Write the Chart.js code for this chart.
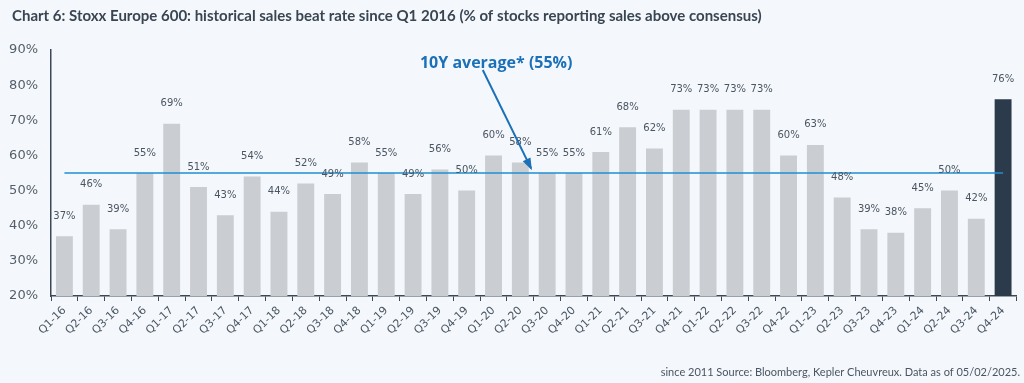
<!DOCTYPE html>
<html lang="en">
<head>
  <meta charset="UTF-8">
  <title>Stoxx Europe 600 sales beat rate</title>
  <script src="https://cdn.jsdelivr.net/npm/chart.js"></script>
  <style>
    html, body { margin: 0; padding: 0; background: #f4f8fc; }
    #wrap { position: relative; width: 1024px; height: 383px; }
  </style>
</head>
<body>
  <div id="wrap"><canvas id="beatChart" width="1024" height="383"></canvas></div>

  <script>
    // quarters since Q1 2016
    const quarters = ['Q1-16','Q2-16','Q3-16','Q4-16','Q1-17','Q2-17','Q3-17','Q4-17','Q1-18','Q2-18','Q3-18','Q4-18',
      'Q1-19','Q2-19','Q3-19','Q4-19','Q1-20','Q2-20','Q3-20','Q4-20','Q1-21','Q2-21','Q3-21','Q4-21',
      'Q1-22','Q2-22','Q3-22','Q4-22','Q1-23','Q2-23','Q3-23','Q4-23','Q1-24','Q2-24','Q3-24','Q4-24'];
    // % of stocks beating sales consensus
    const beatRate = [37,46,39,55,69,51,43,54,44,52,49,58,55,49,56,50,60,58,55,55,61,68,62,73,73,73,73,60,63,48,39,38,45,50,42,76];
    const avgRate = 55;   // 10Y average
    const yTicks = [20, 30, 40, 50, 60, 70, 80, 90];

    const avgLine = quarters.map(() => avgRate);
    const barColors = quarters.map((q, i) => i === quarters.length - 1 ? '#2b3b4c' : '#cacdd1');

    const textCol = '#4a5561';
    const axisCol = '#3c4855';

    // value labels + annotation arrow
    const extras = {
      id: 'extras',
      afterDatasetsDraw(chart) {
        const { ctx, scales: { x, y } } = chart;
        const meta = chart.getDatasetMeta(0);
        ctx.save();
        ctx.font = '10px "DejaVu Sans"';
        ctx.fillStyle = textCol;
        ctx.textAlign = 'center';
        ctx.textBaseline = 'middle';
        meta.data.forEach((bar, i) => {
          ctx.fillText(beatRate[i] + '%', bar.x, bar.y - 20);
        });

        // annotation text
        ctx.fillStyle = '#1b70b8';
        ctx.font = 'bold 16px "Open Sans"';
        ctx.fillText('10Y average* (55%)', x.getPixelForValue(16.1), y.getPixelForValue(86.3));

        // arrow
        const x0 = x.getPixelForValue(15.6), y0 = y.getPixelForValue(84.3);
        const x1 = x.getPixelForValue(17.4), y1 = y.getPixelForValue(56.3);
        ctx.strokeStyle = '#1b70b8';
        ctx.lineWidth = 2;
        ctx.beginPath();
        ctx.moveTo(x0, y0);
        ctx.lineTo(x1, y1);
        ctx.stroke();
        const ang = Math.atan2(y1 - y0, x1 - x0);
        ctx.beginPath();
        ctx.moveTo(x1 + 2 * Math.cos(ang), y1 + 2 * Math.sin(ang));
        ctx.lineTo(x1 - 11 * Math.cos(ang - 0.4), y1 - 11 * Math.sin(ang - 0.4));
        ctx.lineTo(x1 - 11 * Math.cos(ang + 0.4), y1 - 11 * Math.sin(ang + 0.4));
        ctx.closePath();
        ctx.fillStyle = '#1b70b8';
        ctx.fill();
        ctx.restore();
      },
      afterDraw(chart) {
        const ctx = chart.ctx;
        ctx.save();
        ctx.fillStyle = '#3a4552';
        ctx.font = 'bold 15px Lato';
        ctx.textBaseline = 'middle';
        ctx.textAlign = 'left';
        ctx.fillText('Chart 6: Stoxx Europe 600: historical sales beat rate since Q1 2016 (% of stocks reporting sales above consensus)', 12, 16);
        ctx.font = '11px Lato';
        ctx.textAlign = 'right';
        ctx.fillStyle = textCol;
        ctx.fillText('since 2011 Source: Bloomberg, Kepler Cheuvreux. Data as of 05/02/2025.', 1020, 372);
        ctx.restore();
      }
    };

    new Chart(document.getElementById('beatChart'), {
      data: {
        labels: quarters,
        datasets: [
          {
            type: 'bar',
            data: beatRate,
            backgroundColor: barColors,
            barPercentage: 0.63,
            categoryPercentage: 1,
            order: 2
          },
          {
            type: 'line',
            data: avgLine,
            borderColor: '#1f8fd2',
            borderWidth: 1.5,
            pointRadius: 0,
            order: 1
          }
        ]
      },
      options: {
        responsive: false,
        animation: false,
        layout: { padding: { top: 50, right: 7.5, left: 0, bottom: 0 } },
        plugins: {
          legend: { display: false },
          tooltip: { enabled: false }
        },
        scales: {
          x: {
            offset: true,
            afterFit(scale) { scale.height = 87; },
            grid: { offset: true, drawOnChartArea: false, drawTicks: true, tickLength: 5, color: axisCol },
            border: { display: true, color: axisCol, width: 1.5 },
            ticks: {
              minRotation: 45, maxRotation: 45, autoSkip: false,
              color: textCol, font: { family: '"DejaVu Sans"', size: 11 }
            }
          },
          y: {
            min: 20, max: 90,
            afterFit(scale) { scale.width = 51; },
            afterBuildTicks(scale) { scale.ticks = yTicks.map(v => ({ value: v })); },
            grid: { display: false, drawTicks: false },
            border: { display: true, color: axisCol, width: 1.5 },
            ticks: {
              color: '#555e68', padding: 13,
              font: { family: '"DejaVu Sans"', size: 13 },
              callback: v => v + '%'
            }
          }
        }
      },
      plugins: [extras]
    });
  </script>
</body>
</html>
